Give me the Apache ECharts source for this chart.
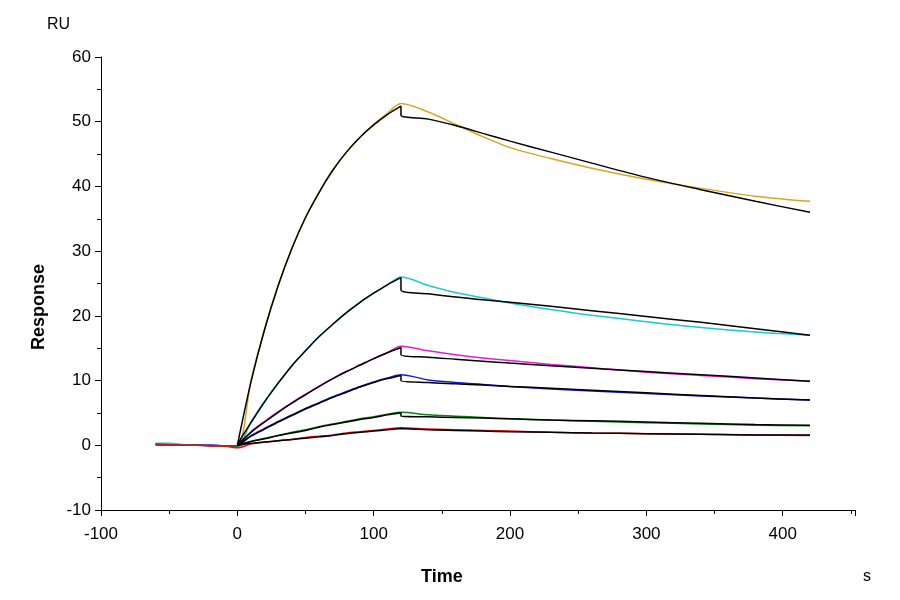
<!DOCTYPE html>
<html>
<head>
<script src="https://cdn.jsdelivr.net/npm/echarts@6/dist/echarts.min.js"></script>
<style>
  body { margin: 0; background: #fff; }
  #chart { width: 900px; height: 600px; }
</style>
</head>
<body>
<div id="chart"></div>
<script>
// time points (s)
const tBase = [-60, -50, -40, -30, -20, -10, 0];
const tAssoc = [0, 10, 20, 30, 40, 50, 60, 70, 80, 90, 100, 110, 120];
const tDiss = [120, 140, 160, 180, 200, 230, 260, 300, 340, 380, 420];

// measured curves
const colors = ['#DAA520', '#1EC8D2', '#E020E0', '#1A1AD0', '#108010', '#E01010'];
const baseVals = [
  [0.2, 0.2, 0.1, 0.0, 0.0, -0.1, -0.2],
  [0.3, 0.3, 0.1, 0.0, 0.0, -0.1, -0.1],
  [0.1, 0.1, 0.0, 0.0, 0.0, -0.1, -0.1],
  [0.1, 0.0, 0.0, 0.0, 0.0, -0.1, -0.1],
  [0.1, 0.0, 0.0, 0.0, -0.1, -0.1, -0.1],
  [0.2, 0.1, 0.0, 0.0, -0.1, -0.1, -0.4]
];
const assocVals = [
  [0.5, 10.0, 18.0, 24.8, 30.5, 35.2, 39.1, 42.5, 45.3, 47.6, 49.6, 51.3, 52.8],
  [0.8, 3.6, 6.8, 9.7, 12.3, 14.6, 16.8, 18.7, 20.5, 22.1, 23.5, 24.8, 26.0],
  [0.5, 2.1, 3.7, 5.2, 6.6, 7.9, 9.1, 10.3, 11.4, 12.4, 13.4, 14.3, 15.3],
  [0.3, 1.5, 2.6, 3.7, 4.7, 5.7, 6.6, 7.5, 8.3, 9.1, 9.8, 10.4, 10.9],
  [0.1, 0.6, 1.1, 1.5, 2.0, 2.4, 2.9, 3.3, 3.7, 4.1, 4.4, 4.8, 5.1],
  [-0.4, 0.2, 0.5, 0.7, 0.9, 1.2, 1.4, 1.6, 1.9, 2.1, 2.3, 2.5, 2.7]
];
const dissVals = [
  [52.8, 51.5, 49.6, 47.7, 46.0, 44.3, 42.8, 41.1, 39.7, 38.5, 37.7],
  [26.0, 24.7, 23.6, 22.8, 22.0, 21.0, 20.1, 19.1, 18.2, 17.5, 17.0],
  [15.3, 14.6, 14.0, 13.5, 13.1, 12.5, 12.0, 11.3, 10.8, 10.3, 9.9],
  [10.9, 10.1, 9.7, 9.4, 9.1, 8.7, 8.4, 8.0, 7.6, 7.3, 7.0],
  [5.1, 4.7, 4.5, 4.3, 4.1, 3.9, 3.7, 3.5, 3.3, 3.1, 3.0],
  [2.7, 2.5, 2.4, 2.3, 2.2, 2.0, 1.9, 1.8, 1.7, 1.6, 1.5]
];

// fitted curves (black)
const fitAssoc = [
  [0.0, 9.8, 17.9, 24.7, 30.4, 35.2, 39.1, 42.5, 45.3, 47.6, 49.5, 51.1, 52.4],
  [0.2, 3.5, 6.7, 9.6, 12.3, 14.6, 16.8, 18.7, 20.5, 22.1, 23.5, 24.8, 25.9],
  [0.1, 2.0, 3.6, 5.1, 6.5, 7.8, 9.1, 10.3, 11.4, 12.4, 13.4, 14.3, 15.1],
  [0.0, 1.4, 2.5, 3.6, 4.6, 5.6, 6.5, 7.4, 8.2, 9.0, 9.7, 10.3, 10.8],
  [0.0, 0.6, 1.0, 1.5, 1.9, 2.3, 2.8, 3.2, 3.6, 4.0, 4.3, 4.7, 5.0],
  [0.0, 0.3, 0.5, 0.7, 0.9, 1.1, 1.3, 1.5, 1.8, 2.0, 2.2, 2.4, 2.6]
];
const fitDiss = [
  [51.0, 50.4, 49.4, 48.2, 47.0, 45.3, 43.6, 41.4, 39.5, 37.7, 36.0],
  [24.0, 23.4, 22.9, 22.5, 22.1, 21.5, 20.8, 19.9, 19.0, 18.0, 17.0],
  [14.0, 13.6, 13.3, 13.0, 12.7, 12.3, 11.9, 11.4, 10.9, 10.4, 9.9],
  [10.0, 9.7, 9.5, 9.3, 9.1, 8.8, 8.5, 8.1, 7.7, 7.3, 7.0],
  [4.5, 4.4, 4.3, 4.2, 4.1, 3.9, 3.8, 3.6, 3.4, 3.2, 3.1],
  [2.5, 2.4, 2.3, 2.2, 2.1, 2.0, 1.9, 1.8, 1.7, 1.6, 1.6]
];

function pairs(ts, vs) { return ts.map((t, i) => [t, vs[i]]); }

let series = [];
colors.forEach((c, k) => {
  series.push({
    type: 'line', showSymbol: false, smooth: 0.3, animation: false,
    lineStyle: { color: c, width: 1.5 },
    data: pairs(tBase, baseVals[k]).concat(pairs(tAssoc, assocVals[k]).slice(1), pairs(tDiss, dissVals[k]).slice(1))
  });
});
colors.forEach((c, k) => {
  series.push({
    type: 'line', showSymbol: false, smooth: 0.3, animation: false,
    lineStyle: { color: '#000', width: 1.5 },
    data: pairs(tAssoc, fitAssoc[k]).concat(pairs(tDiss, fitDiss[k]))
  });
});

const chart = echarts.init(document.getElementById('chart'));
const font = 'Liberation Sans, Arial, sans-serif';
chart.setOption({
  animation: false,
  grid: { left: 101, right: 45, top: 57, bottom: 90 },
  xAxis: {
    type: 'value', min: -100, max: 453, interval: 100,
    axisLine: { onZero: false, lineStyle: { color: '#000' } },
    axisTick: { lineStyle: { color: '#000' }, length: 6 },
    minorTick: { show: true, splitNumber: 2, length: 4, lineStyle: { color: '#000' } },
    splitLine: { show: false },
    axisLabel: { color: '#000', fontSize: 17, fontFamily: font, showMaxLabel: false, margin: 10 }
  },
  yAxis: {
    type: 'value', min: -10, max: 60, interval: 10,
    axisLine: { show: true, onZero: false, lineStyle: { color: '#000' } },
    axisTick: { show: true, lineStyle: { color: '#000' }, length: 6 },
    minorTick: { show: true, splitNumber: 2, length: 4, lineStyle: { color: '#000' } },
    splitLine: { show: false },
    axisLabel: { color: '#000', fontSize: 17, fontFamily: font, margin: 10 }
  },
  graphic: [
    { type: 'text', left: 47, top: 11, style: { text: 'RU', fontSize: 16, fontFamily: font, fill: '#000' } },
    { type: 'text', left: 421, top: 562, style: { text: 'Time', fontSize: 18, fontWeight: 'bold', fontFamily: font, fill: '#000' } },
    { type: 'text', left: 863, top: 563, style: { text: 's', fontSize: 16, fontFamily: font, fill: '#000' } },
    { type: 'text', x: 24, y: 350, rotation: Math.PI / 2, style: { text: 'Response', fontSize: 18, fontWeight: 'bold', fontFamily: font, fill: '#000' } }
  ],
  series: series
});
</script>
</body>
</html>
